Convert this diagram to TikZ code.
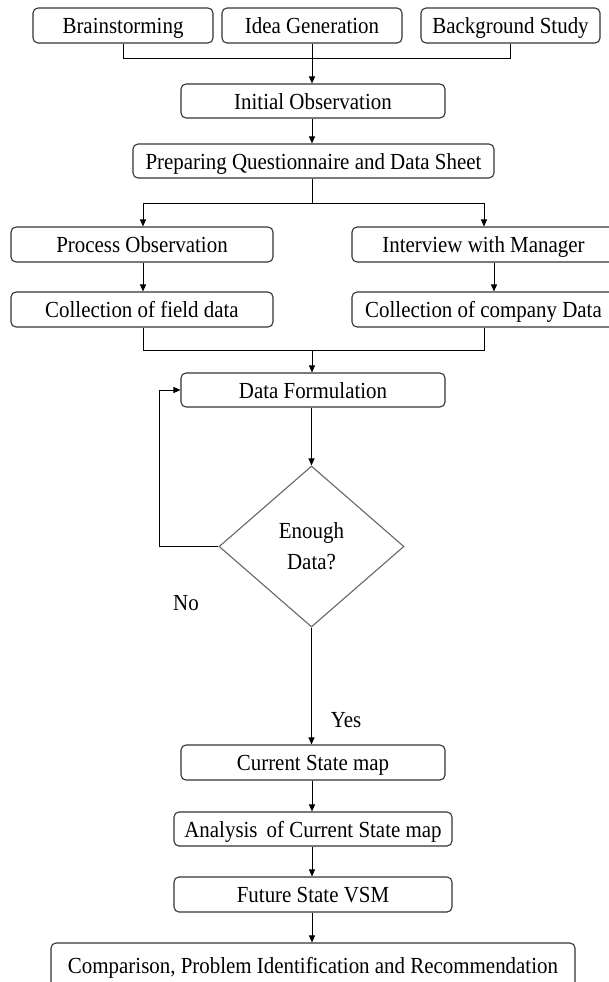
\documentclass[tikz,border=0pt]{standalone}
\usepackage{fontspec}
\setmainfont{Liberation Serif}[FakeStretch=0.91]
\usetikzlibrary{shapes.geometric,arrows.meta}
\begin{document}
\begin{tikzpicture}[x=1pt,y=-1pt,
  box/.style={draw=black!80, line width=1.1pt, rounded corners=5pt, inner sep=0pt,
    text height=18pt, text depth=2pt, font=\fontsize{23}{31}\selectfont},
  dec/.style={draw=black!60, line width=1.1pt, diamond, inner sep=0pt, aspect=1.15,
    minimum width=185pt, minimum height=161pt, align=center,
    font=\fontsize{23}{31}\selectfont},
  lbl/.style={font=\fontsize{23}{31}\selectfont, inner sep=0pt},
  conn/.style={line width=1pt, draw=black},
  arr/.style={conn, -{Triangle[length=7pt,width=6pt]}}]
\useasboundingbox (0,0) rectangle (609,982);
\clip (0,0) rectangle (609,982);
% nodes
\node[box, minimum width=180pt, minimum height=35pt] (brain) at (123,25.5) {Brainstorming};
\node[box, minimum width=180pt, minimum height=35pt] (idea) at (312,25.5) {Idea Generation};
\node[box, minimum width=179pt, minimum height=35pt] (bg) at (510.5,25.5) {Background Study};
\node[box, minimum width=264pt, minimum height=34pt] (init) at (313,101) {Initial Observation};
\node[box, minimum width=361pt, minimum height=34pt] (prep) at (313.5,161) {Preparing Questionnaire and Data Sheet};
\node[box, minimum width=262pt, minimum height=35pt] (proc) at (142,244.5) {Process Observation};
\node[box, minimum width=263pt, minimum height=35pt] (interv) at (483.5,244.5) {Interview with Manager};
\node[box, minimum width=262pt, minimum height=35pt] (field) at (142,309.5) {Collection of field data};
\node[box, minimum width=263pt, minimum height=35pt] (comp) at (483.5,309.5) {Collection of company Data};
\node[box, minimum width=264pt, minimum height=34pt] (form) at (313,390) {Data Formulation};
\node[dec] (enough) at (311.5,546.5) {Enough\\Data?};
\node[lbl] (no) at (186,603) {No};
\node[lbl] (yes) at (346,720) {Yes};
\node[box, minimum width=264pt, minimum height=35pt] (cur) at (313,762.5) {Current State map};
\node[box, minimum width=278pt, minimum height=34pt] (anal) at (313,829) {Analysis\, of Current State map};
\node[box, minimum width=278pt, minimum height=35pt] (fut) at (313,894.5) {Future State VSM};
\node[box, minimum width=524pt, minimum height=44pt] (rec) at (313,965) {Comparison, Problem Identification and Recommendation};
% coordinates
\coordinate (j1) at (312,59);
\coordinate (j2) at (312,203);
\coordinate (j3) at (312,350);
\coordinate (fb) at (159,546.5);
% connectors
\draw[conn] (brain.south) -- (brain.south |- j1) -- (bg.south |- j1) -- (bg.south);
\draw[arr] (idea.south) -- (init.north -| idea.south);
\draw[arr] (init.south -| j1) -- (prep.north -| j1);
\draw[conn] (prep.south -| j2) -- (j2);
\draw[arr] (j2) -- (143,203) -- (proc.north -| 143,0);
\draw[arr] (j2) -- (484,203) -- (interv.north -| 484,0);
\draw[arr] (proc.south -| 143,0) -- (field.north -| 143,0);
\draw[arr] (interv.south -| 494,0) -- (comp.north -| 494,0);
\draw[conn] (field.south -| 143,0) -- (143,350) -- (484,350) -- (comp.south -| 484,0);
\draw[arr] (j3) -- (form.north -| j3);
\draw[arr] (form.south -| enough.north) -- (enough.north);
\draw[arr] (enough.west) -- (fb) -- (fb |- form.west) -- (form.west);
\draw[arr] (enough.south) -- (cur.north -| enough.south);
\draw[arr] (cur.south -| j1) -- (anal.north -| j1);
\draw[arr] (anal.south -| j1) -- (fut.north -| j1);
\draw[arr] (fut.south -| j1) -- (rec.north -| j1);
\end{tikzpicture}
\end{document}
